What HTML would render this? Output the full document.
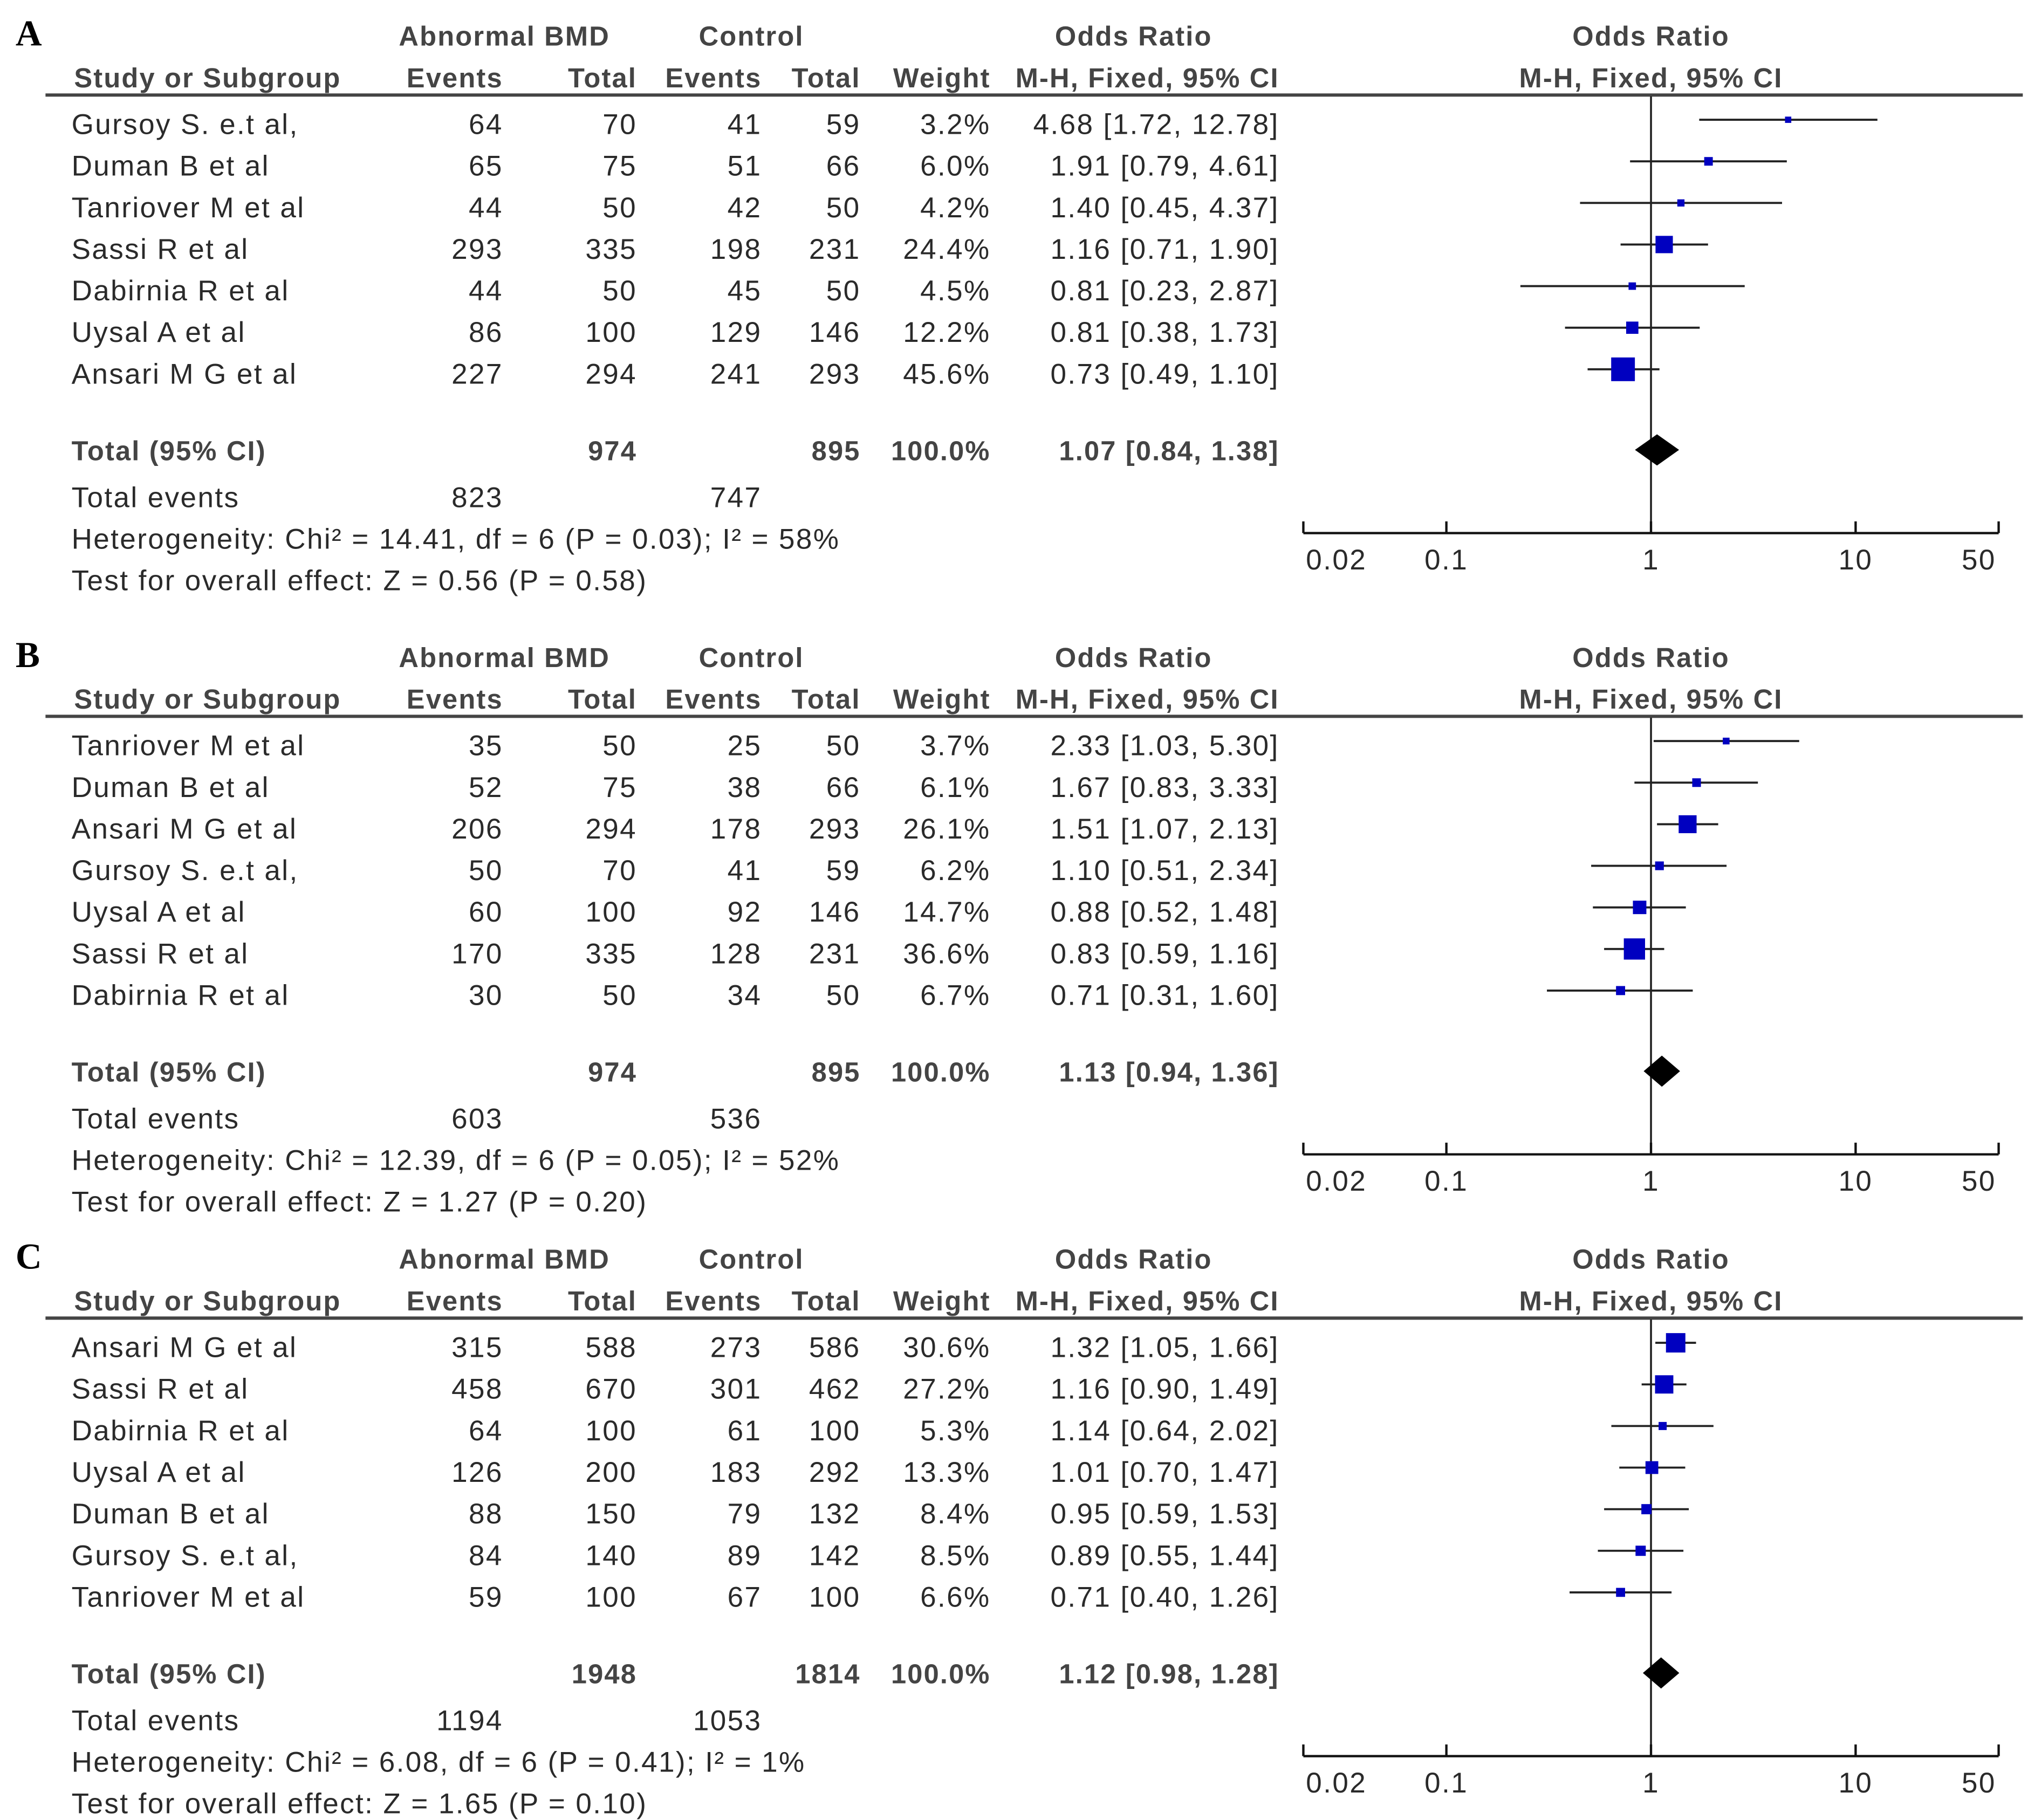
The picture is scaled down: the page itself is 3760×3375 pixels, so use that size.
<!DOCTYPE html>
<html><head><meta charset="utf-8"><style>
html,body{margin:0;padding:0;background:#fff}
svg{display:block}
text{font-family:"Liberation Sans",Arial,sans-serif;font-size:22px;letter-spacing:1px;fill:#2a2a2a}
.h{font-weight:bold;fill:#444;font-size:21px;letter-spacing:0.9px}
.lab{font-family:"Liberation Serif",serif;font-weight:bold;font-size:28px;letter-spacing:0;fill:#000}
</style></head><body>
<svg id="chart" width="3760" height="3375" viewBox="0 0 1560 1400" xmlns="http://www.w3.org/2000/svg"></svg>
<script>
const namesA=["Gursoy S. e.t al,","Duman B et al","Tanriover M et al","Sassi R et al","Dabirnia R et al","Uysal A et al","Ansari M G et al"];
const evA=[64,65,44,293,44,86,227];const totA=[70,75,50,335,50,100,294];
const cevA=[41,51,42,198,45,129,241];const ctotA=[59,66,50,231,50,146,293];
const wA=[3.2,6.0,4.2,24.4,4.5,12.2,45.6];
const orA=[4.68,1.91,1.40,1.16,0.81,0.81,0.73];const loA=[1.72,0.79,0.45,0.71,0.23,0.38,0.49];const hiA=[12.78,4.61,4.37,1.90,2.87,1.73,1.10];
const sumA=["974","895","1.07",0.84,1.38,"823","747","Heterogeneity: Chi² = 14.41, df = 6 (P = 0.03); I² = 58%","Test for overall effect: Z = 0.56 (P = 0.58)"];

const namesB=["Tanriover M et al","Duman B et al","Ansari M G et al","Gursoy S. e.t al,","Uysal A et al","Sassi R et al","Dabirnia R et al"];
const evB=[35,52,206,50,60,170,30];const totB=[50,75,294,70,100,335,50];
const cevB=[25,38,178,41,92,128,34];const ctotB=[50,66,293,59,146,231,50];
const wB=[3.7,6.1,26.1,6.2,14.7,36.6,6.7];
const orB=[2.33,1.67,1.51,1.10,0.88,0.83,0.71];const loB=[1.03,0.83,1.07,0.51,0.52,0.59,0.31];const hiB=[5.30,3.33,2.13,2.34,1.48,1.16,1.60];
const sumB=["974","895","1.13",0.94,1.36,"603","536","Heterogeneity: Chi² = 12.39, df = 6 (P = 0.05); I² = 52%","Test for overall effect: Z = 1.27 (P = 0.20)"];

const namesC=["Ansari M G et al","Sassi R et al","Dabirnia R et al","Uysal A et al","Duman B et al","Gursoy S. e.t al,","Tanriover M et al"];
const evC=[315,458,64,126,88,84,59];const totC=[588,670,100,200,150,140,100];
const cevC=[273,301,61,183,79,89,67];const ctotC=[586,462,100,292,132,142,100];
const wC=[30.6,27.2,5.3,13.3,8.4,8.5,6.6];
const orC=[1.32,1.16,1.14,1.01,0.95,0.89,0.71];const loC=[1.05,0.90,0.64,0.70,0.59,0.55,0.40];const hiC=[1.66,1.49,2.02,1.47,1.53,1.44,1.26];
const sumC=["1948","1814","1.12",0.98,1.28,"1194","1053","Heterogeneity: Chi² = 6.08, df = 6 (P = 0.41); I² = 1%","Test for overall effect: Z = 1.65 (P = 0.10)"];

const ticks=[0.02,0.1,1,10,50];const tickLabels=["0.02","0.1","1","10","50"];
const svg=document.getElementById('chart');const NS="http://www.w3.org/2000/svg";
function xs(v){return 1270+157.4*Math.log10(v);}
function mk(tag,at,txt){const e=document.createElementNS(NS,tag);for(const k in at)e.setAttribute(k,at[k]);if(txt!==undefined)e.textContent=txt;svg.appendChild(e);return e;}
function t(x,y,s,anchor,cls,name){const e=mk('text',{x:x,y:y,'text-anchor':anchor||'start'},s);if(cls)e.setAttribute('class',cls);

return e;}
function fmt(v){return v.toFixed(2);}
function panel(o,letter,names,ev,tot,cev,ctot,w,or,lo,hi,sum){
 t(12,o+35,letter,'start','lab','panel-label');
 t(388,o+35,"Abnormal BMD",'middle','h','group-header');t(578,o+35,"Control",'middle','h','group-header');
 t(872,o+35,"Odds Ratio",'middle','h','column-header');t(1270,o+35,"Odds Ratio",'middle','h','plot-header');
 t(57,o+67,"Study or Subgroup",'start','h','column-header');t(387,o+67,"Events",'end','h','column-header');
 t(490,o+67,"Total",'end','h','column-header');t(586,o+67,"Events",'end','h','column-header');
 t(662,o+67,"Total",'end','h','column-header');t(762,o+67,"Weight",'end','h','column-header');
 t(984,o+67,"M-H, Fixed, 95% CI",'end','h','column-header');t(1270,o+67,"M-H, Fixed, 95% CI",'middle','h','plot-header');
 let hl=mk('line',{x1:35,x2:1556,y1:o+73,y2:o+73,stroke:'#444','stroke-width':2.5});
 
 
 const ay=o+410;
 let vl=mk('line',{x1:xs(1),x2:xs(1),y1:o+74,y2:ay,stroke:'#222','stroke-width':1.5});
 
 
 for(let i=0;i<names.length;i++){
  const y=o+95+32*i, ty=y+8;
  t(55,ty,names[i],'start',null,'study-name');t(387,ty,ev[i],'end',null,'events');t(490,ty,tot[i],'end',null,'total');
  t(586,ty,cev[i],'end',null,'control-events');t(662,ty,ctot[i],'end',null,'control-total');
  t(762,ty,w[i].toFixed(1)+"%",'end',null,'weight');
  t(984,ty,fmt(or[i])+" ["+fmt(lo[i])+", "+fmt(hi[i])+"]",'end',null,'odds-ratio-ci');
  const ci=mk('line',{x1:xs(lo[i]),x2:xs(hi[i]),y1:y-3,y2:y-3,stroke:'#222','stroke-width':1.6});
  
  
  const s=Math.max(3.5,2.7*Math.sqrt(w[i]));
  const sq=mk('rect',{x:xs(or[i])-s/2,y:y-3-s/2,width:s,height:s,fill:'#0000c0'});
  
  
 }
 const yt=o+346;
 t(55,yt+8,"Total (95% CI)",'start','h','total-label');t(490,yt+8,sum[0],'end','h','total');t(662,yt+8,sum[1],'end','h','total');
 t(762,yt+8,"100.0%",'end','h','total-weight');t(984,yt+8,sum[2]+" ["+fmt(sum[3])+", "+fmt(sum[4])+"]",'end','h','total-or');
 const c=xs(parseFloat(sum[2])),L=xs(sum[3]),R=xs(sum[4]);const hw=Math.max(14,(R-L)/2),hh=12;
 const d=mk('polygon',{points:(c-hw)+","+yt+" "+c+","+(yt-hh)+" "+(c+hw)+","+yt+" "+c+","+(yt+hh),fill:'#000'});
 
 
 t(55,o+390,"Total events",'start',null,'total-events-label');t(387,o+390,sum[5],'end',null,'total-events');t(586,o+390,sum[6],'end',null,'total-events');
 t(55,o+422,sum[7],'start',null,'heterogeneity');t(55,o+454,sum[8],'start',null,'overall-effect');
 const ax=mk('line',{x1:xs(ticks[0]),x2:xs(ticks[ticks.length-1]),y1:ay,y2:ay,stroke:'#111','stroke-width':1.8});
 
 
 for(let i=0;i<ticks.length;i++){
  const tk=mk('line',{x1:xs(ticks[i]),x2:xs(ticks[i]),y1:ay-9,y2:ay,stroke:'#111','stroke-width':1.8});
  
  
  const a=i==0?'start':(i==ticks.length-1?'end':'middle');
  t(xs(ticks[i])+(i==0?2:(i==ticks.length-1?-2:0)),ay+28,tickLabels[i],a,null,'x-tick-label');
 }
}
panel(0,"A",namesA,evA,totA,cevA,ctotA,wA,orA,loA,hiA,sumA);
panel(478,"B",namesB,evB,totB,cevB,ctotB,wB,orB,loB,hiB,sumB);
panel(941,"C",namesC,evC,totC,cevC,ctotC,wC,orC,loC,hiC,sumC);
</script>
</body></html>
